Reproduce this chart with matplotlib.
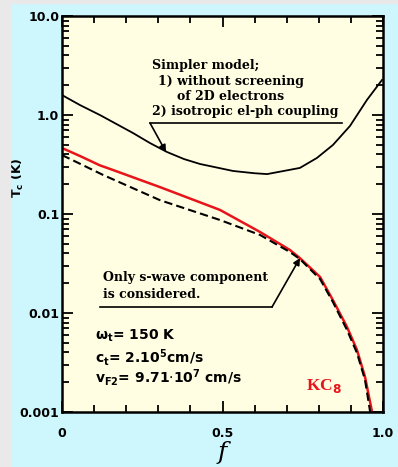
import numpy as np
import matplotlib.pyplot as plt
from matplotlib.patches import Rectangle
from matplotlib.ticker import FixedLocator, MultipleLocator, NullFormatter

plt.rcParams['mathtext.fontset'] = 'dejavusans'

# Tc(f) para KC8
f_simples = [0.0, 0.056, 0.118, 0.221, 0.274, 0.327, 0.38, 0.43, 0.533, 0.60, 0.639, 0.741, 0.794, 0.844, 0.897, 0.95, 0.997]
tc_simples = [1.59, 1.26, 1.0, 0.658, 0.521, 0.423, 0.359, 0.32, 0.272, 0.258, 0.253, 0.292, 0.368, 0.498, 0.774, 1.42, 2.26]

f_kc8 = [0.0, 0.06, 0.118, 0.15, 0.305, 0.492, 0.617, 0.710, 0.741, 0.804, 0.844, 0.888, 0.919, 0.944, 0.966]
tc_kc8 = [0.464, 0.38, 0.31, 0.285, 0.187, 0.110, 0.0658, 0.0433, 0.0359, 0.0231, 0.0135, 0.00722, 0.00423, 0.00226, 0.001]

f_swave = [0.0, 0.128, 0.305, 0.492, 0.617, 0.710, 0.741, 0.804, 0.844, 0.888, 0.919, 0.944, 0.960]
tc_swave = [0.394, 0.248, 0.138, 0.087, 0.0614, 0.0413, 0.0351, 0.0220, 0.0129, 0.00673, 0.00394, 0.00211, 0.001]

yticks = [0.001, 0.01, 0.1, 1.0, 10.0]
ytick_labels = ['0.001', '0.01', '0.1', '1.0', '10.0']
xticks = [0, 0.5, 1.0]
xtick_labels = ['0', '0.5', '1.0']

W, H = 398, 467
fig = plt.figure(figsize=(W / 100, H / 100), dpi=100, facecolor='#cdf6fd')
# bordas cinzas
fig.patches.append(Rectangle((0, 0), 10 / W, 1, transform=fig.transFigure, color='#e9e9e9', zorder=0))
fig.patches.append(Rectangle((0, 1 - 3 / H), 1, 3 / H, transform=fig.transFigure, color='#e9e9e9', zorder=0))

x0, x1, y0, y1 = 62, 383, 16, 412
ax = fig.add_axes([x0 / W, 1 - y1 / H, (x1 - x0) / W, (y1 - y0) / H])
ax.set_facecolor('#fffee2')

ax.plot(f_simples, tc_simples, color='black', lw=1.3)
ax.plot(f_kc8, tc_kc8, color='#e8141b', lw=1.8)
ax.plot(f_swave, tc_swave, color='black', lw=1.5, ls=(0, (4, 2)))

ax.set_yscale('log')
ax.set_xlim(0, 1.0)
ax.set_ylim(0.001, 10.0)
ax.yaxis.set_major_locator(FixedLocator(yticks))
ax.set_yticklabels(ytick_labels)
ax.yaxis.set_minor_formatter(NullFormatter())
ax.set_xticks(xticks)
ax.set_xticklabels(xtick_labels)
ax.xaxis.set_minor_locator(MultipleLocator(0.1))

for s in ax.spines.values():
    s.set_linewidth(1.8)
ax.tick_params(which='both', direction='in', top=True, right=True, width=1.3)
ax.tick_params(which='major', length=8)
ax.tick_params(which='minor', length=5)
ax.tick_params(axis='y', which='major', pad=2)
ax.tick_params(axis='x', which='major', pad=11)
for lab in ax.get_xticklabels() + ax.get_yticklabels():
    lab.set_fontweight('bold')
    lab.set_fontsize(9)


def px(x, y):
    return ((x - x0) / (x1 - x0), (y1 - y) / (y1 - y0))


ax.set_xlabel('f', fontsize=18, family='DejaVu Serif', style='italic', va='center')
ax.xaxis.set_label_coords(*px(222, 453))
ax.set_ylabel(r'T$_\mathbf{c}$ (K)', fontsize=9, fontweight='bold', va='center')
ax.yaxis.set_label_coords(*px(18, 178))

serif = dict(family='DejaVu Serif', fontweight='bold', transform=ax.transAxes, va='center')
ax.text(*px(152, 65), 'Simpler model;', fontsize=9, **serif)
ax.text(*px(158, 81), '1) without screening', fontsize=9, **serif)
ax.text(*px(177, 96), 'of 2D electrons', fontsize=9, **serif)
ax.text(*px(152, 112), '2) isotropic el-ph coupling', fontsize=9, **serif)
ax.plot(*zip(px(150, 123), px(342, 123)), transform=ax.transAxes, color='black', lw=1.2)
ax.annotate('', xy=px(166, 152), xytext=px(150, 123), xycoords='axes fraction',
            arrowprops=dict(arrowstyle='-|>', color='black', lw=1.2, mutation_scale=10, shrinkA=0, shrinkB=0))

ax.text(*px(103, 277), 'Only s-wave component', fontsize=9, **serif)
ax.text(*px(103, 295), 'is considered.', fontsize=9, **serif)
ax.plot(*zip(px(100, 307), px(272, 307)), transform=ax.transAxes, color='black', lw=1.2)
ax.annotate('', xy=px(300, 258), xytext=px(272, 307), xycoords='axes fraction',
            arrowprops=dict(arrowstyle='-|>', color='black', lw=1.2, mutation_scale=10, shrinkA=0, shrinkB=0))

sans = dict(fontsize=10, fontweight='bold', transform=ax.transAxes, va='center')
ax.text(*px(95, 336), r'$\mathbf{\omega_t}$= 150 K', **sans)
ax.text(*px(95, 357), r'c$_\mathbf{t}$= 2.10$^\mathbf{5}$cm/s', **sans)
ax.text(*px(95, 378), r'v$_\mathbf{F2}$= 9.71$\cdot$10$^\mathbf{7}$ cm/s', **sans)

ax.text(*px(306, 386), r'KC$_\mathbf{8}$', fontsize=12.5, color='#e8141b',
        family='Liberation Serif', fontweight='bold', transform=ax.transAxes, va='center')

fig.savefig('out.png', dpi=100, facecolor=fig.get_facecolor())
